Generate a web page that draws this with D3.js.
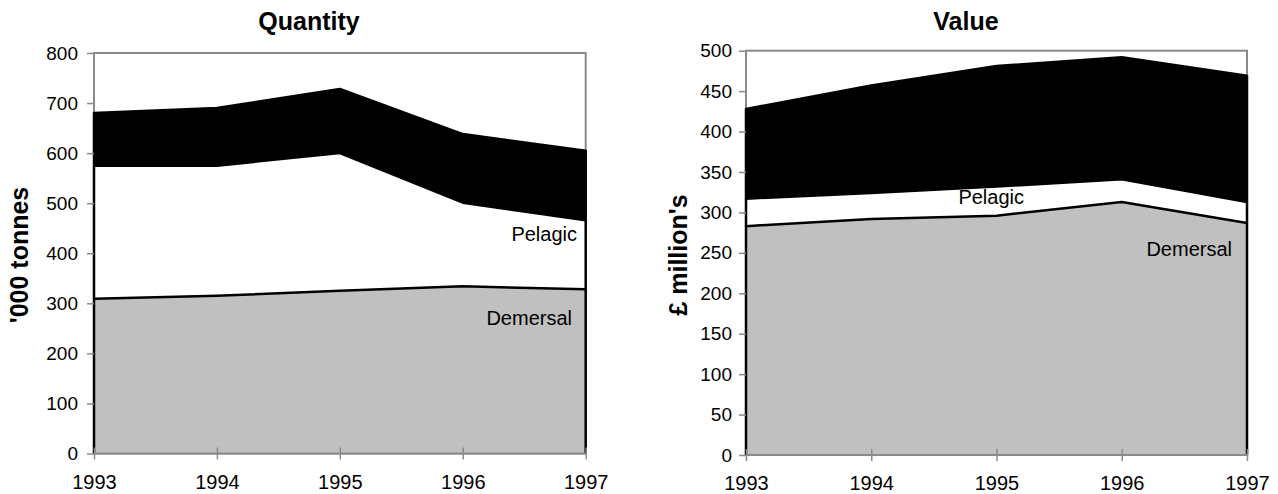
<!DOCTYPE html>
<html>
<head>
<meta charset="utf-8">
<script src="https://cdn.jsdelivr.net/npm/d3@7"></script>
<style>
  html, body { margin: 0; padding: 0; background: #fff; }
  svg { display: block; }
  text { font-family: "Liberation Sans", Arial, sans-serif; fill: #000; }
</style>
</head>
<body>
<svg id="chart" width="1278" height="494"></svg>
<script>
// ---- Data ----
const years = [1993, 1994, 1995, 1996, 1997];

// Quantity ('000 tonnes)
const qtyDemersal  = [309, 315, 325, 334, 328];
const qtyPelagic   = [266, 260, 275, 167, 138];
const qtyShellfish = [105, 115, 128, 137, 139];
const qtyTicks = [0, 100, 200, 300, 400, 500, 600, 700, 800];

// Value (£ million's)
const valDemersal  = [283, 292, 296, 313, 287];
const valPelagic   = [34, 32, 36, 28, 26];
const valShellfish = [111, 133, 149, 151, 156];
const valTicks = [0, 50, 100, 150, 200, 250, 300, 350, 400, 450, 500];

const seriesKeys = ["Demersal", "Pelagic", "Shellfish"];
const seriesFill = { Demersal: "#c0c0c0", Pelagic: "#ffffff", Shellfish: "#000000" };

const svg = d3.select("#chart");

function drawPanel(cfg) {
  const rows = years.map((yr, i) => ({
    year: yr,
    Demersal: cfg.demersal[i],
    Pelagic: cfg.pelagic[i],
    Shellfish: cfg.shellfish[i]
  }));
  const stacked = d3.stack().keys(seriesKeys)(rows);

  const x = d3.scaleLinear().domain(d3.extent(years)).range([cfg.left, cfg.right]);
  const y = d3.scaleLinear().domain([0, d3.max(cfg.ticks)]).range([cfg.bottom, cfg.top]);

  const g = svg.append("g");

  // plot frame (grey)
  g.append("rect")
    .attr("x", cfg.left).attr("y", cfg.top)
    .attr("width", cfg.right - cfg.left).attr("height", cfg.bottom - cfg.top)
    .attr("fill", "#fff").attr("stroke", "#8a8a8a").attr("stroke-width", 2);

  // area fills
  const area = d3.area()
    .x(d => x(d.data.year))
    .y0(d => y(d[0]))
    .y1(d => y(d[1]));
  g.selectAll("path.area").data(stacked).join("path")
    .attr("class", "area")
    .attr("d", area)
    .attr("fill", d => seriesFill[d.key]);

  // outlines: left edge, top line, right edge (no bottom edge)
  const outline = d3.line().x(p => p[0]).y(p => p[1]);
  g.selectAll("path.outline").data(stacked).join("path")
    .attr("class", "outline")
    .attr("d", s => {
      const n = s.length;
      const pts = [[x(s[0].data.year), y(s[0][0])]];
      s.forEach(d => pts.push([x(d.data.year), y(d[1])]));
      pts.push([x(s[n - 1].data.year), y(s[n - 1][0])]);
      return outline(pts);
    })
    .attr("fill", "none")
    .attr("stroke", "#000")
    .attr("stroke-width", 2.5)
    .attr("stroke-linejoin", "round");

  // y axis
  const yAxis = d3.axisLeft(y).tickValues(cfg.ticks).tickSize(7).tickPadding(cfg.yPad).tickFormat(d3.format("d"));
  const ya = g.append("g").attr("transform", `translate(${cfg.left},0)`).call(yAxis);
  ya.select(".domain").remove();
  ya.selectAll(".tick line").attr("stroke", "#8a8a8a").attr("stroke-width", 1.5);
  ya.selectAll(".tick text").style("font-size", "19px").attr("fill", "#000");

  // x axis
  const xAxis = d3.axisBottom(x).tickValues(years).tickSize(6).tickFormat(d3.format("d"));
  const xa = g.append("g").attr("transform", `translate(0,${cfg.bottom})`).call(xAxis);
  xa.select(".domain").attr("stroke", "#8a8a8a").attr("stroke-width", 2)
    .attr("d", `M${cfg.left},0H${cfg.right}`);
  xa.selectAll(".tick line").attr("stroke", "#8a8a8a").attr("stroke-width", 1.5).attr("y1", -6).attr("y2", 6);
  xa.selectAll(".tick text").attr("dy", null).attr("y", 35).style("font-size", "20px").attr("fill", "#000");

  // title
  svg.append("text").attr("x", cfg.titleX).attr("y", 30)
    .attr("text-anchor", "middle").style("font-size", "25px").style("font-weight", "bold")
    .text(cfg.title);

  // y-axis title
  svg.append("text")
    .attr("transform", `translate(${cfg.ytitleX},255) rotate(-90)`)
    .attr("text-anchor", "middle").style("font-size", "25px").style("font-weight", "bold")
    .text(cfg.ytitle);

  // series labels
  cfg.labels.forEach(l => {
    svg.append("text").attr("x", l.x).attr("y", l.y)
      .attr("text-anchor", "end").style("font-size", "20px")
      .text(l.text);
  });
}

drawPanel({
  title: "Quantity", titleX: 309,
  ytitle: "'000 tonnes", ytitleX: 28,
  demersal: qtyDemersal, pelagic: qtyPelagic, shellfish: qtyShellfish,
  ticks: qtyTicks,
  left: 94, right: 585.7, top: 53, bottom: 453.5, yPad: 9,
  labels: [
    { text: "Pelagic", x: 577, y: 241 },
    { text: "Demersal", x: 572, y: 325 }
  ]
});

drawPanel({
  title: "Value", titleX: 966,
  ytitle: "£ million's", ytitleX: 687,
  demersal: valDemersal, pelagic: valPelagic, shellfish: valShellfish,
  ticks: valTicks,
  left: 746, right: 1247, top: 50.7, bottom: 455, yPad: 7,
  labels: [
    { text: "Pelagic", x: 1024, y: 204 },
    { text: "Demersal", x: 1232, y: 256 }
  ]
});
</script>
</body>
</html>
